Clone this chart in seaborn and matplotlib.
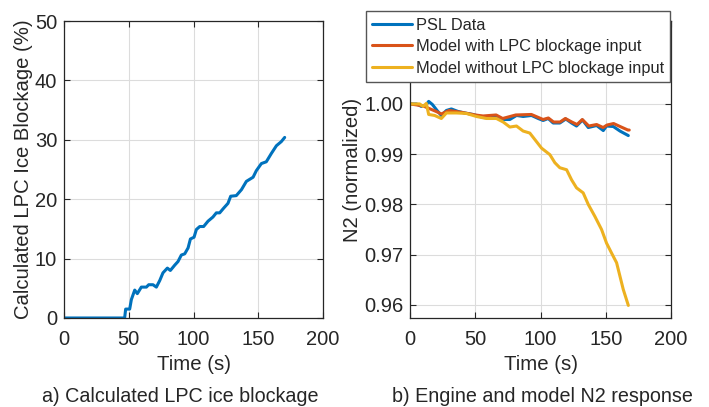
import numpy as np
import pandas as pd
import matplotlib
matplotlib.use("Agg")
import matplotlib.pyplot as plt
import seaborn as sns

# (a) Calculated LPC ice blockage (%) versus time (s)
blk_time = [0, 46.8, 47.6, 50.7, 52.0, 54.6, 56.6, 59.7, 63.6, 65.4, 68.7, 71.3,
            73.9, 76.4, 79.8, 82.1, 85.5, 88.0, 90.6, 93.2, 95.8, 97.6, 100.4,
            102.2, 104.8, 107.8, 111.2, 115.0, 117.6, 120.2, 123.3, 126.6, 128.7,
            133.0, 137.0, 140.8, 146.0, 148.5, 152.4, 156.2, 160.1, 164.0, 167.8, 170.4]
blk_pct = [0, 0, 1.5, 1.5, 3.1, 4.7, 4.1, 5.2, 5.2, 5.6, 5.6, 5.2,
           6.3, 7.6, 8.4, 8.0, 8.9, 9.5, 10.6, 10.8, 11.8, 13.3, 13.6,
           14.9, 15.4, 15.4, 16.3, 17.0, 17.7, 17.7, 18.5, 19.3, 20.5,
           20.6, 21.6, 23.0, 23.7, 24.8, 26.0, 26.3, 27.7, 29.0, 29.7, 30.4]

# (b) Normalized N2 response
psl_time = [0, 4.9, 8.7, 12.0, 14.3, 17.1, 20.7, 24.0, 27.9, 31.7, 36.8, 41.9, 48.3,
            56.0, 61.1, 66.2, 71.4, 76.5, 81.6, 86.7, 93.1, 98.2, 102.0, 105.9,
            109.7, 114.8, 119.4, 123.8, 127.6, 132.2, 136.6, 143.0, 148.1, 150.6,
            155.8, 160.9, 167.3]
psl_n2 = [1.0000, 1.0000, 0.9995, 0.9997, 1.0005, 0.9999, 0.9987, 0.9977, 0.9987,
          0.9990, 0.9985, 0.9982, 0.9979, 0.9973, 0.9972, 0.9975, 0.9969, 0.9969,
          0.9977, 0.9975, 0.9977, 0.9971, 0.9967, 0.9971, 0.9962, 0.9962, 0.9970,
          0.9962, 0.9956, 0.9968, 0.9953, 0.9957, 0.9947, 0.9956, 0.9955, 0.9946,
          0.9937]

with_time = [0, 10, 20, 24, 30, 40, 50, 56, 66, 71, 81, 93, 102, 106, 110, 115,
             119, 124, 128, 132, 137, 143, 148, 151, 156, 161, 167, 168]
with_n2 = [1.0000, 0.9996, 0.9985, 0.9980, 0.9987, 0.9983, 0.9978, 0.9976, 0.9978,
           0.9971, 0.9978, 0.9979, 0.9969, 0.9972, 0.9964, 0.9964, 0.9971, 0.9964,
           0.9959, 0.9969, 0.9956, 0.9959, 0.9953, 0.9958, 0.9961, 0.9955, 0.9948,
           0.9948]

without_time = [0, 7.4, 10.0, 12.5, 14.3, 18.9, 24.0, 27.9, 35.5, 43.2, 50.9, 58.6,
                66.2, 71.4, 76.5, 81.6, 86.7, 91.8, 95.7, 100.8, 107.2, 111.0, 114.8,
                120.0, 123.8, 127.6, 132.7, 136.6, 141.7, 146.8, 150.6, 154.5, 158.3,
                160.9, 163.4, 167.3]
without_n2 = [1.0000, 1.0000, 0.9995, 1.0001, 0.9979, 0.9977, 0.9971, 0.9982, 0.9982,
              0.9981, 0.9975, 0.9971, 0.9971, 0.9964, 0.9954, 0.9956, 0.9946, 0.9942,
              0.9929, 0.9912, 0.9899, 0.9883, 0.9873, 0.9869, 0.9849, 0.9833, 0.9823,
              0.9800, 0.9776, 0.9750, 0.9723, 0.9703, 0.9684, 0.9657, 0.9631, 0.9599]

series_names = ["PSL Data", "Model with LPC blockage input",
                "Model without LPC blockage input"]
series_colors = ["#0072BD", "#D95319", "#EDB120"]

sns.set_theme(style="ticks")
plt.rcParams["font.family"] = ["Liberation Sans", "DejaVu Sans"]
txt = "#262626"
plt.rcParams.update({
    "axes.edgecolor": txt, "xtick.color": txt, "ytick.color": txt,
    "axes.labelcolor": txt, "text.color": txt,
    "xtick.direction": "in", "ytick.direction": "in",
    "xtick.top": True, "ytick.right": True,
    "xtick.major.size": 4, "ytick.major.size": 4,
    "xtick.major.width": 0.8, "ytick.major.width": 0.8,
    "axes.linewidth": 0.9,
})

fig = plt.figure(figsize=(7.09, 4.07), dpi=100)
ax1 = fig.add_axes([0.0903, 0.2187, 0.3653, 0.7297])
ax2 = fig.add_axes([0.5783, 0.2187, 0.3681, 0.7297])

df_blk = pd.DataFrame({"Time": blk_time, "Blockage": blk_pct})
sns.lineplot(data=df_blk, x="Time", y="Blockage", ax=ax1, color=series_colors[0],
             linewidth=2.2, estimator=None)

df_n2 = pd.concat([
    pd.DataFrame({"Time": psl_time, "N2": psl_n2, "Series": series_names[0]}),
    pd.DataFrame({"Time": with_time, "N2": with_n2, "Series": series_names[1]}),
    pd.DataFrame({"Time": without_time, "N2": without_n2, "Series": series_names[2]}),
], ignore_index=True)
sns.lineplot(data=df_n2, x="Time", y="N2", hue="Series", hue_order=series_names,
             palette=series_colors, ax=ax2, linewidth=2.2, estimator=None,
             legend=False)

for ax in (ax1, ax2):
    ax.set_xlim(0, 200)
    ax.set_xticks([0, 50, 100, 150, 200])
    ax.grid(True, color="#dcdcdc", linewidth=0.8)
    ax.set_axisbelow(True)
    ax.tick_params(labelsize=14.5)
    ax.tick_params(axis="x", pad=9)
    ax.tick_params(axis="y", pad=5)
    ax.set_xlabel("Time (s)", fontsize=14.7, labelpad=4)
    for s in ax.spines.values():
        s.set_visible(True)

ax1.set_ylim(0, 50)
ax1.set_yticks([0, 10, 20, 30, 40, 50])
ax1.set_ylabel("Calculated LPC Ice Blockage (%)", fontsize=14.6, labelpad=1)

ax2.set_ylim(0.9574, 1.0165)
ax2.set_yticks([0.96, 0.97, 0.98, 0.99, 1.00])
ax2.set_yticklabels(["0.96", "0.97", "0.98", "0.99", "1.00"])
ax2.set_ylabel("N2 (normalized)", fontsize=14.6, labelpad=1)

handles = [plt.Line2D([], [], color=c, linewidth=2.2) for c in series_colors]
leg = ax2.legend(handles, series_names, loc="upper left",
                 bbox_to_anchor=(0.516, 0.973), bbox_transform=fig.transFigure,
                 borderaxespad=0, fontsize=11.75, handlelength=2.4,
                 handletextpad=0.25, labelspacing=0.4, borderpad=0.4,
                 fancybox=False, framealpha=1, edgecolor="#555555")
leg.get_frame().set_linewidth(1.0)

fig.text(0.2546, 0.013, "a) Calculated LPC ice blockage", ha="center",
         va="baseline", fontsize=14.2)
fig.text(0.765, 0.013, "b) Engine and model N2 response", ha="center",
         va="baseline", fontsize=14.2)

fig.savefig("out.png", dpi=100)
